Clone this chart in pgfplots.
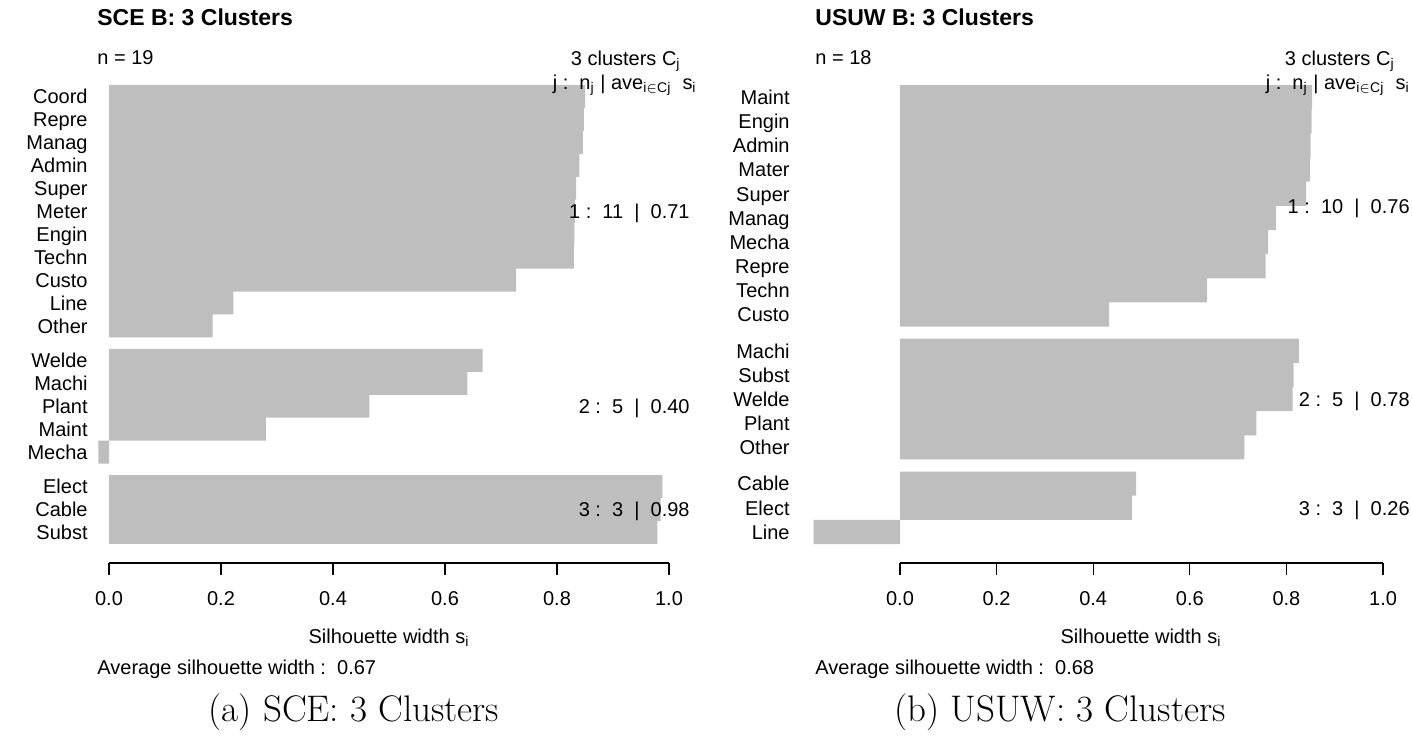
\documentclass[border=0pt]{standalone}
\usepackage{fontspec}
\usepackage{pgfplots}
\pgfplotsset{compat=1.18}
\newfontfamily\rf{Liberation Sans}
\definecolor{rgray}{RGB}{190,190,190}
\newcommand{\rtext}{\rf\fontsize{10}{12}\selectfont}
\tikzset{rt/.style={inner sep=0pt, font=\rtext}}
\pgfplotsset{silh/.style={
  scale only axis,
  anchor=south west,
  clip=false,
  axis x line*=bottom,
  axis y line*=left,
  x axis line style={draw=none},
  y axis line style={draw=none},
  xtick={0,0.2,0.4,0.6,0.8,1},
  xticklabels={0.0,0.2,0.4,0.6,0.8,1.0},
  tick align=outside,
  major tick length=6pt,
  ytick style={draw=none},
  xtick style={black, line width=0.6pt},
  ticklabel style={font=\rtext},
  yticklabel style={inner sep=0pt, anchor=mid east, xshift=6pt, yshift=-1.5pt},
  xticklabel style={inner sep=0pt, yshift=-8pt},
  xbar, bar width=1, bar shift=0pt,
}}
\begin{document}
\begin{tikzpicture}[x=0.5pt,y=0.5pt]
\useasboundingbox (0,0) rectangle (1412,736);
% ---------------- left panel ----------------
\begin{axis}[silh, at={(44pt,86.5pt)}, width=301.7pt, height=243.6pt,
  xmin=-0.0375, xmax=1.04, ymin=-0.83, ymax=20.4,
  ytick={0.5,1.5,2.5,4,5,6,7,8,9.5,10.5,11.5,12.5,13.5,14.5,15.5,16.5,17.5,18.5,19.5},
  yticklabels={Subst,Cable,Elect,Mecha,Maint,Plant,Machi,Welde,Other,Line,Custo,Techn,Engin,Meter,Super,Admin,Manag,Repre,Coord}]
\addplot[fill=rgray, draw=none] coordinates {
(0.850,19.5) (0.848,18.5) (0.846,17.5) (0.840,16.5) (0.834,15.5) (0.832,14.5)
(0.831,13.5) (0.830,12.5) (0.727,11.5) (0.222,10.5) (0.185,9.5)
(0.667,8) (0.640,7) (0.465,6) (0.280,5) (-0.019,4)
(0.988,2.5) (0.985,1.5) (0.979,0.5)};
\draw[line width=0.6pt] (axis cs:0,-0.83) -- (axis cs:1,-0.83);
\node[rt, anchor=mid east, yshift=-1.5pt] at (axis cs:1.0375,14.5) {1 :\ \ 11 \ | \ 0.71};
\node[rt, anchor=mid east, yshift=-1.5pt] at (axis cs:1.0375,6) {2 :\ \ 5 \ | \ 0.40};
\node[rt, anchor=mid east, yshift=-1.5pt] at (axis cs:1.0375,1.5) {3 :\ \ 3 \ | \ 0.98};
\end{axis}
\node[anchor=mid west, inner sep=0pt, font=\rf\bfseries\fontsize{11.5}{13}\selectfont] at (97,715) {SCE B: 3 Clusters};
\node[rt, anchor=mid west] at (97,676) {n = 19};
\node[rt, anchor=mid east] at (681,675) {3 clusters C\textsubscript{j}};
\node[rt, anchor=mid east] at (697,651) {j :\ \ n\textsubscript{j} | ave\textsubscript{i$\in$Cj}\ \ s\textsubscript{i}};
\node[rt, anchor=mid] at (389,97) {Silhouette width s\textsubscript{i}};
\node[rt, anchor=mid west] at (97,66) {Average silhouette width :\ \ 0.67};
\node[anchor=mid, inner sep=0pt, font=\fontsize{18.5}{22}\selectfont] at (354,19) {(a) SCE: 3 Clusters};
% ---------------- right panel ----------------
\begin{axis}[silh, at={(395pt,86.5pt)}, width=311pt, height=243.8pt,
  xmin=-0.2277, xmax=1.06, ymin=-0.786, ymax=19.4,
  ytick={0.5,1.5,2.5,4,5,6,7,8,9.5,10.5,11.5,12.5,13.5,14.5,15.5,16.5,17.5,18.5},
  yticklabels={Line,Elect,Cable,Other,Plant,Welde,Subst,Machi,Custo,Techn,Repre,Mecha,Manag,Super,Mater,Admin,Engin,Maint}]
\addplot[fill=rgray, draw=none] coordinates {
(0.853,18.5) (0.852,17.5) (0.850,16.5) (0.849,15.5) (0.841,14.5) (0.778,13.5)
(0.762,12.5) (0.757,11.5) (0.636,10.5) (0.433,9.5)
(0.826,8) (0.815,7) (0.813,6) (0.738,5) (0.713,4)
(0.489,2.5) (0.480,1.5) (-0.179,0.5)};
\draw[line width=0.6pt] (axis cs:0,-0.786) -- (axis cs:1,-0.786);
\node[rt, anchor=mid east, yshift=-1.5pt] at (axis cs:1.056,14) {1 :\ \ 10 \ | \ 0.76};
\node[rt, anchor=mid east, yshift=-1.5pt] at (axis cs:1.056,6) {2 :\ \ 5 \ | \ 0.78};
\node[rt, anchor=mid east, yshift=-1.5pt] at (axis cs:1.056,1.5) {3 :\ \ 3 \ | \ 0.26};
\end{axis}
\node[anchor=mid west, inner sep=0pt, font=\rf\bfseries\fontsize{11.5}{13}\selectfont] at (815,715) {USUW B: 3 Clusters};
\node[rt, anchor=mid west] at (815,676) {n = 18};
\node[rt, anchor=mid east] at (1395,675) {3 clusters C\textsubscript{j}};
\node[rt, anchor=mid east] at (1410,651) {j :\ \ n\textsubscript{j} | ave\textsubscript{i$\in$Cj}\ \ s\textsubscript{i}};
\node[rt, anchor=mid] at (1141,97) {Silhouette width s\textsubscript{i}};
\node[rt, anchor=mid west] at (815,66) {Average silhouette width :\ \ 0.68};
\node[anchor=mid, inner sep=0pt, font=\fontsize{18.5}{22}\selectfont] at (1060,19) {(b) USUW: 3 Clusters};
\end{tikzpicture}
\end{document}
